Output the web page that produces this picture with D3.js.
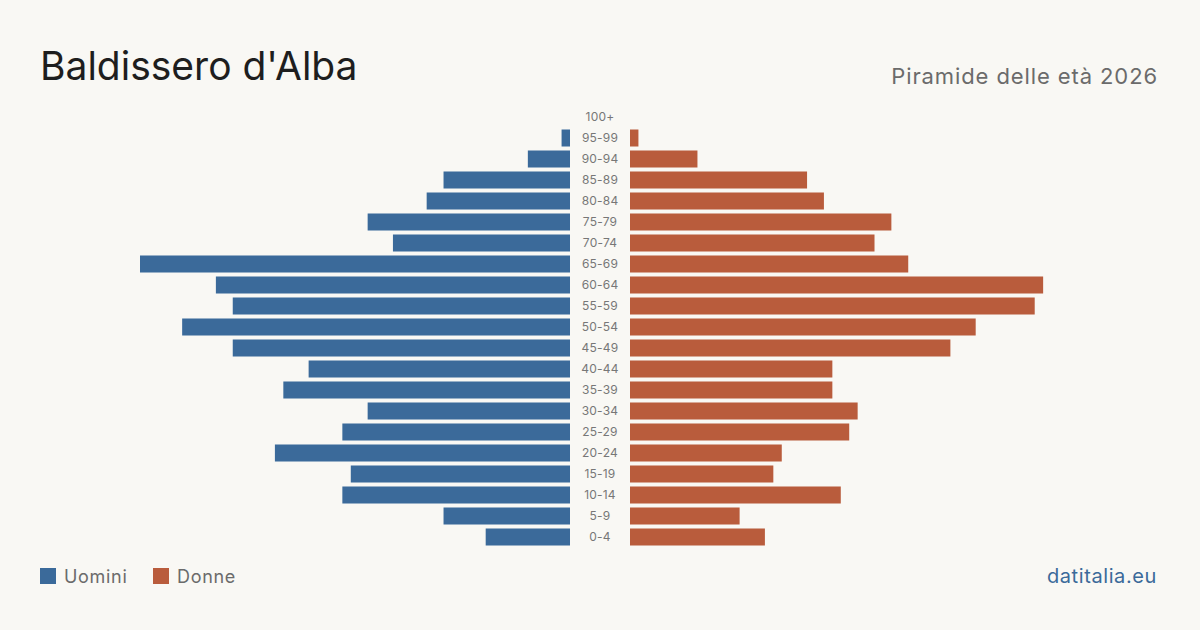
<!DOCTYPE html>
<html>
  <head>
    <meta charset="utf-8">
    <title>Baldissero d'Alba - Piramide delle età 2026</title>
    <style>
      body { margin: 0; background: #f9f8f4; }
      svg { display: block; font-family: Inter, "Noto Sans", sans-serif; }
    </style>
  </head>
  <body>
    <script src="https://d3js.org/d3.v7.min.js"></script>
    <svg id="chart" width="1200" height="630"></svg>
    <script>
      // age classes, top to bottom
      const ageGroups = ["100+", "95-99", "90-94", "85-89", "80-84", "75-79", "70-74", "65-69", "60-64",
        "55-59", "50-54", "45-49", "40-44", "35-39", "30-34", "25-29", "20-24", "15-19", "10-14", "5-9", "0-4"]
      const men   = [0, 1, 5, 15, 17, 24, 21, 51, 42, 40, 46, 40, 31, 34, 24, 27, 35, 26, 27, 15, 10]
      const women = [0, 1, 8, 21, 23, 31, 29, 33, 49, 48, 41, 38, 24, 24, 27, 26, 18, 17, 25, 13, 16]

      const width = 1200, height = 630
      const center = 600, gap = 30
      const blue = "#3b6a9a", orange = "#b95c3c"

      const svg = d3.select("#chart")

      const maxVal = d3.max([...men, ...women])
      const x = d3.scaleLinear([0, maxVal], [0, 430])
      const y = d3.scaleBand(ageGroups, [106.5, 547.5]).paddingInner(0.19).paddingOuter(0.095)

      // men, to the left
      svg.append("g")
        .selectAll("rect")
        .data(men)
        .join("rect")
          .attr("x", d => center - gap - x(d))
          .attr("y", (d, i) => y(ageGroups[i]))
          .attr("width", d => x(d))
          .attr("height", y.bandwidth())
          .attr("fill", blue)

      // women, to the right
      svg.append("g")
        .selectAll("rect")
        .data(women)
        .join("rect")
          .attr("x", center + gap)
          .attr("y", (d, i) => y(ageGroups[i]))
          .attr("width", d => x(d))
          .attr("height", y.bandwidth())
          .attr("fill", orange)

      // age labels in the middle
      svg.append("g")
        .selectAll("text")
        .data(ageGroups)
        .join("text")
          .attr("x", center)
          .attr("y", d => y(d) + y.bandwidth() / 2)
          .attr("dy", "0.35em")
          .attr("text-anchor", "middle")
          .attr("fill", "#777")
          .style("font-size", "12px")
          .style("letter-spacing", "0.2px")
          .text(d => d)

      // titles
      svg.append("text")
        .attr("x", 40).attr("y", 80)
        .attr("fill", "#1e1e1e")
        .style("font-size", "39px")
        .text("Baldissero d'Alba")

      svg.append("text")
        .attr("x", 1158).attr("y", 84)
        .attr("text-anchor", "end")
        .attr("fill", "#6b6b6b")
        .style("font-size", "22px")
        .style("letter-spacing", "0.9px")
        .text("Piramide delle età 2026")

      // legend
      const legend = [{ label: "Uomini", color: blue, x: 40 }, { label: "Donne", color: orange, x: 153 }]
      const lg = svg.append("g").selectAll("g").data(legend).join("g")
        .attr("transform", d => `translate(${d.x},568)`)
      lg.append("rect").attr("width", 16).attr("height", 16).attr("fill", d => d.color)
      lg.append("text")
        .attr("x", 24).attr("y", 15)
        .attr("fill", "#6b6b6b")
        .style("font-size", "18px")
        .style("letter-spacing", "0.7px")
        .text(d => d.label)

      svg.append("text")
        .attr("x", 1157).attr("y", 583)
        .attr("text-anchor", "end")
        .attr("fill", blue)
        .style("font-size", "20px")
        .style("letter-spacing", "0.6px")
        .text("datitalia.eu")
    </script>
  </body>
</html>
